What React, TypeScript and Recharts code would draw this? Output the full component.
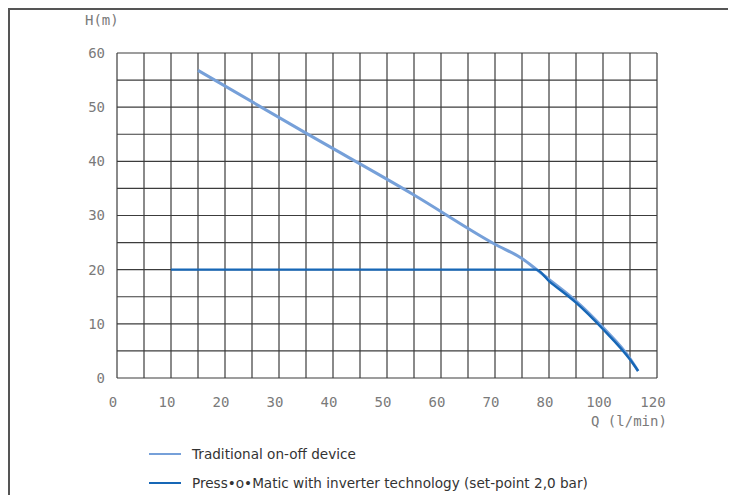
import React from "react";
import { LineChart, Line, XAxis, YAxis, CartesianGrid } from "recharts";

// flow Q (l/min) and head H (m)
const traditionalQ = [15, 35, 55, 70, 75, 77.6, 80, 90, 100, 110, 113];
const traditionalH = [56.8, 45.2, 33.8, 24.7, 22.05, 20.1, 18.2, 14.2, 9.3, 3.6, 1.3];

const inverterQ = [10, 77.6, 80, 90, 100, 110, 113];
const inverterH = [20, 20, 17.9, 13.9, 9.0, 3.4, 1.3];

const qTicks = [0, 10, 20, 30, 40, 50, 60, 70, 80, 100, 120];
const hTicks = [0, 10, 20, 30, 40, 50, 60];

const TRAD_COLOR = "#76a0d9";
const INV_COLOR = "#1767b6";
const MONO = "'DejaVu Sans Mono', monospace";
const TEXT_GREY = "#7a7a7a";

// the printed axis runs 0..80 in steps of 10, then 100, 120 at the same spacing
const qToPos = (q: number) => (q <= 80 ? q : 80 + (q - 80) / 2);
const posToQ = (p: number) => (p <= 80 ? p : 80 + (p - 80) * 2);

const traditional = traditionalQ.map((q, i) => ({ pos: qToPos(q), h: traditionalH[i] }));
const inverter = inverterQ.map((q, i) => ({ pos: qToPos(q), h: inverterH[i] }));

// grid every half step, labels every full step
const xGrid: number[] = [];
for (let p = 0; p <= qToPos(qTicks[qTicks.length - 1]); p += 5) xGrid.push(p);
const yGrid: number[] = [];
for (let h = 0; h <= hTicks[hTicks.length - 1]; h += 5) yGrid.push(h);
const xLabelPos = qTicks.map(qToPos);

export default function App() {
  return (
    <div style={{ position: "relative", width: 728, height: 487, overflow: "hidden" }}>
      <div
        style={{
          position: "absolute",
          left: 0,
          top: 0,
          width: 900,
          height: 700,
          borderTop: "2px solid #555",
          borderLeft: "2px solid #555",
        }}
      />
      <div style={{ position: "absolute", left: -8, top: -8 }}>
        <LineChart width={736} height={495} margin={{ top: 53, right: 79, bottom: 87, left: 57 }}>
          <CartesianGrid stroke="#3c3c3c" strokeWidth={1.2} />
          <XAxis
            type="number"
            dataKey="pos"
            domain={[0, 100]}
            ticks={xGrid}
            interval={0}
            height={30}
            axisLine={false}
            tickLine={false}
            tickSize={0}
            tickMargin={19}
            tick={{ fill: TEXT_GREY, fontSize: 14, fontFamily: MONO, dx: -4 }}
            tickFormatter={(p: number) => (xLabelPos.includes(p) ? String(posToQ(p)) : "")}
          />
          <YAxis
            type="number"
            dataKey="h"
            domain={[0, 60]}
            ticks={yGrid}
            interval={0}
            width={60}
            axisLine={false}
            tickLine={false}
            tickSize={0}
            tickMargin={12}
            tick={{ fill: TEXT_GREY, fontSize: 14, fontFamily: MONO }}
            tickFormatter={(h: number) => (hTicks.includes(h) ? String(h) : "")}
          />
          <Line
            data={traditional}
            dataKey="h"
            type="monotone"
            stroke={TRAD_COLOR}
            strokeWidth={3}
            dot={false}
            isAnimationActive={false}
          />
          <Line
            data={inverter}
            dataKey="h"
            type="monotone"
            stroke={INV_COLOR}
            strokeWidth={2.4}
            dot={false}
            isAnimationActive={false}
          />
        </LineChart>
      </div>

      <div style={{ position: "absolute", left: 77, top: 4, fontFamily: MONO, fontSize: 14, color: TEXT_GREY }}>
        H(m)
      </div>
      <div style={{ position: "absolute", left: 583, top: 405, fontFamily: MONO, fontSize: 14, color: TEXT_GREY }}>
        Q (l/min)
      </div>

      {[
        { name: "Traditional on-off device", color: TRAD_COLOR, y: 446 },
        { name: "Press•o•Matic with inverter technology (set-point 2,0 bar)", color: INV_COLOR, y: 475 },
      ].map((item) => (
        <div
          key={item.name}
          style={{
            position: "absolute",
            left: 141,
            top: item.y - 10,
            height: 20,
            display: "flex",
            alignItems: "center",
            fontFamily: "'DejaVu Sans', sans-serif",
            fontSize: 13.6,
            color: "#333",
            whiteSpace: "nowrap",
          }}
        >
          <span style={{ display: "inline-block", width: 32, height: 2, background: item.color, marginRight: 11 }} />
          {item.name}
        </div>
      ))}
    </div>
  );
}
